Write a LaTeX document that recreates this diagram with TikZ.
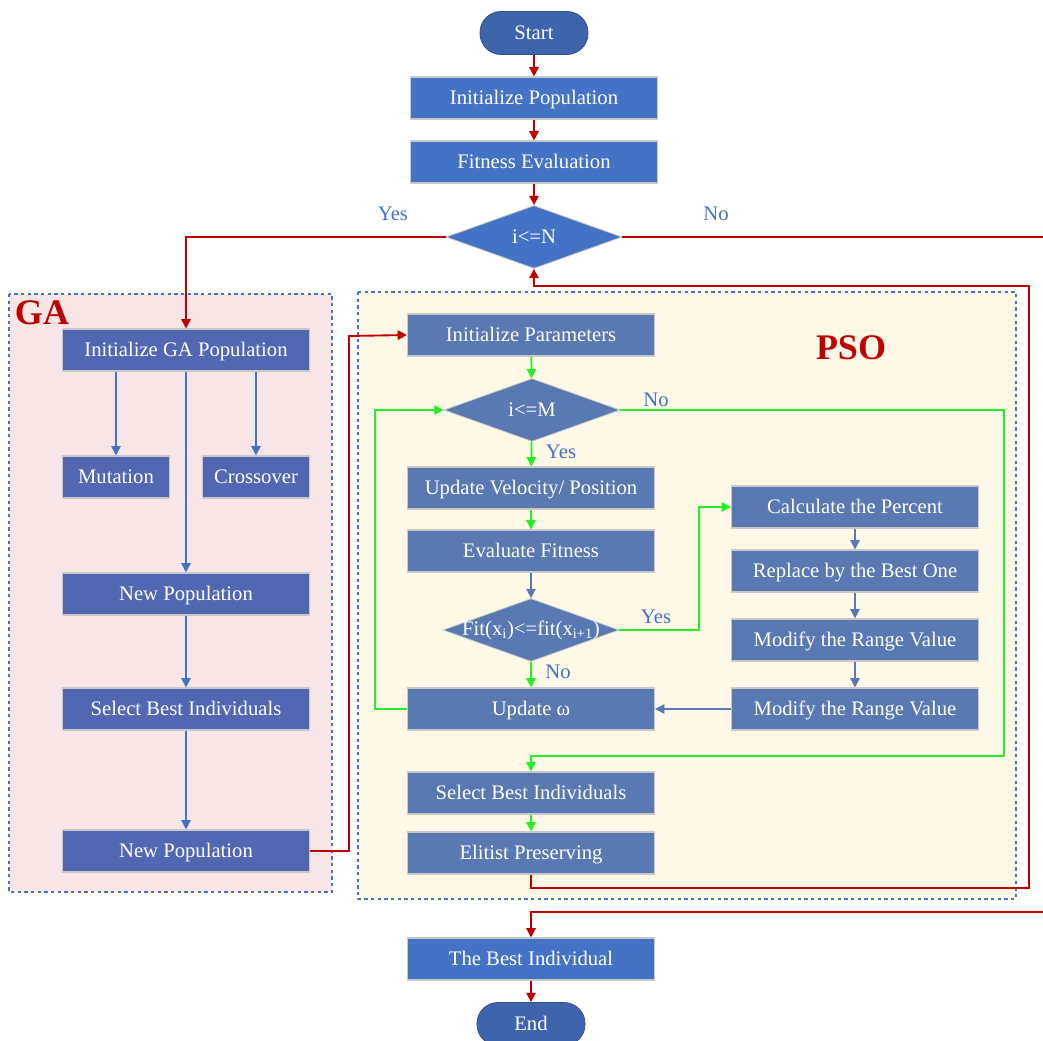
\documentclass[tikz,border=0pt]{standalone}
\usepackage{fontspec}
\setmainfont{Liberation Serif}
\usetikzlibrary{shapes.geometric,arrows.meta}
\definecolor{topblue}{HTML}{4472C4}
\definecolor{termblue}{HTML}{3E64AC}
\definecolor{gafill}{HTML}{5167B2}
\definecolor{psofill}{HTML}{5879B1}
\definecolor{gabg}{HTML}{F8E5E5}
\definecolor{psobg}{HTML}{FEF8E6}
\definecolor{dred}{HTML}{C00000}
\definecolor{lgreen}{HTML}{22F022}
\definecolor{boxedge}{HTML}{C8C8C8}
\tikzset{
  every node/.style={font=\fontsize{15.5}{18}\selectfont},
  boxbase/.style={rectangle, draw=boxedge, line width=0.8pt, text=white, inner sep=0pt, minimum height=31.5pt, text height=12pt, text depth=2pt},
  wbox/.style={boxbase, minimum width=185.25pt},
  sbox/.style={boxbase, minimum width=80.25pt},
  topbox/.style={wbox, fill=topblue},
  gabox/.style={wbox, fill=gafill},
  gasbox/.style={sbox, fill=gafill},
  psobox/.style={wbox, fill=psofill},
  term/.style={rectangle, rounded corners=15.75pt, draw=termblue!80!black, line width=0.6pt, fill=termblue, text=white, minimum width=81pt, minimum height=32.25pt, text height=12pt, text depth=2pt},
  dec/.style={diamond, draw=boxedge, line width=0.6pt, inner sep=0pt, minimum width=132pt, minimum height=47.25pt, label={[text=white]center:#1}},
  tip/.style={-{Triangle[length=7pt,width=7pt]}},
  redline/.style={tip, draw=dred, line width=1.4pt},
  redplain/.style={draw=dred, line width=1.4pt},
  greenline/.style={tip, draw=lgreen, line width=1.3pt},
  blueline/.style={tip, draw=topblue, line width=1.2pt},
  lbl/.style={text=topblue},
  container/.style={draw=topblue, line width=1.1pt, dash pattern=on 2.5pt off 2.5pt},
  biglbl/.style={text=dred, font=\fontsize{27}{30}\selectfont\bfseries}
}
\begin{document}
\begin{tikzpicture}[x=0.75pt,y=-0.75pt]
\useasboundingbox (0,0) rectangle (1043,1041);
% containers
\draw[container, fill=gabg] (9,294) rectangle (332,892);
\draw[container, fill=psobg] (358,292) rectangle (1016,899);
\node[biglbl] (galbl) at (42,313) {GA};
\node[biglbl] (psolbl) at (851,348) {PSO};
% main flow
\node[term] (start) at (534,33) {Start};
\node[topbox] (initpop) at (534,98) {Initialize Population};
\node[topbox] (fiteval) at (534,162) {Fitness Evaluation};
\node[dec={i<=N}, fill=topblue] (dN) at (534,237) {};
\node[topbox] (best) at (531,959) {The Best Individual};
\node[term] (end) at (531,1024) {End};
% GA
\node[gabox] (gainit) at (186,350) {Initialize GA Population};
\node[gasbox] (mut) at (116,477) {Mutation};
\node[gasbox] (cross) at (256,477) {Crossover};
\node[gabox] (np1) at (186,594) {New Population};
\node[gabox] (gasel) at (186,709) {Select Best Individuals};
\node[gabox] (np2) at (186,851) {New Population};
% PSO
\node[psobox] (initp) at (531,335) {Initialize Parameters};
\node[dec={i<=M}, fill=psofill] (dM) at (532,410) {};
\node[psobox] (updv) at (531,488) {Update Velocity/ Position};
\node[psobox] (evalf) at (531,551) {Evaluate Fitness};
\node[dec={Fit(x\textsubscript{i})<=fit(x\textsubscript{i+1})}, fill=psofill] (dF) at (531,630) {};
\node[psobox] (updw) at (531,709) {Update ω};
\node[psobox] (calc) at (855,507) {Calculate the Percent};
\node[psobox] (repl) at (855,571) {Replace by the Best One};
\node[psobox] (mod1) at (855,640) {Modify the Range Value};
\node[psobox] (mod2) at (855,709) {Modify the Range Value};
\node[psobox] (psel) at (531,793) {Select Best Individuals};
\node[psobox] (elit) at (531,853) {Elitist Preserving};
% labels
\node[lbl] (yesN) at (393,214) {Yes};
\node[lbl] (noN) at (716,214) {No};
\node[lbl] (noM) at (656,400) {No};
\node[lbl] (yesM) at (561,452) {Yes};
\node[lbl] (yesF) at (656,617) {Yes};
\node[lbl] (noF) at (558,672) {No};
% coordinates
\coordinate (rA) at (1043,237);
\coordinate (rB) at (1043,912);
\coordinate (c1) at (1029,888);
\coordinate (c2) at (1029,286);
\coordinate (g2) at (349,336);
\coordinate (p1) at (1004,756);
\coordinate (q1) at (699,507);
\coordinate (r1) at (375,410);
% main connectors
\draw[redline] (start) -- (initpop);
\draw[redline] (initpop) -- (fiteval);
\draw[redline] (fiteval) -- (dN);
\draw[redline] (dN.west) -| (gainit.north);
\draw[redplain] (dN.east) -- (rA);
\draw[redline] (rB) -| (best.north);
\draw[redline] (best) -- (end);
\draw[redline] (elit.south) |- (c1) -- (c2) -| (dN.south);
\draw[redline] (np2.east) -| (g2) -- (initp.west);
% GA connectors
\draw[blueline] (gainit.south -| mut.north) -- (mut.north);
\draw[blueline] (gainit.south -| cross.north) -- (cross.north);
\draw[blueline] (gainit) -- (np1);
\draw[blueline] (np1) -- (gasel);
\draw[blueline] (gasel) -- (np2);
% PSO connectors
\draw[greenline] (initp) -- (dM);
\draw[greenline] (dM) -- (updv);
\draw[greenline] (dM.east) -| (p1) -| (psel.north);
\draw[greenline] (updv) -- (evalf);
\draw[blueline, draw=psofill] (evalf) -- (dF);
\draw[greenline] (dF.east) -| (q1) -- (calc.west);
\draw[greenline] (dF) -- (updw);
\draw[greenline] (updw.west) -| (r1) -- (dM.west);
\draw[blueline, draw=psofill] (calc) -- (repl);
\draw[blueline, draw=psofill] (repl) -- (mod1);
\draw[blueline, draw=psofill] (mod1) -- (mod2);
\draw[blueline, draw=psofill] (mod2) -- (updw);
\draw[greenline] (psel) -- (elit);
\end{tikzpicture}
\end{document}
